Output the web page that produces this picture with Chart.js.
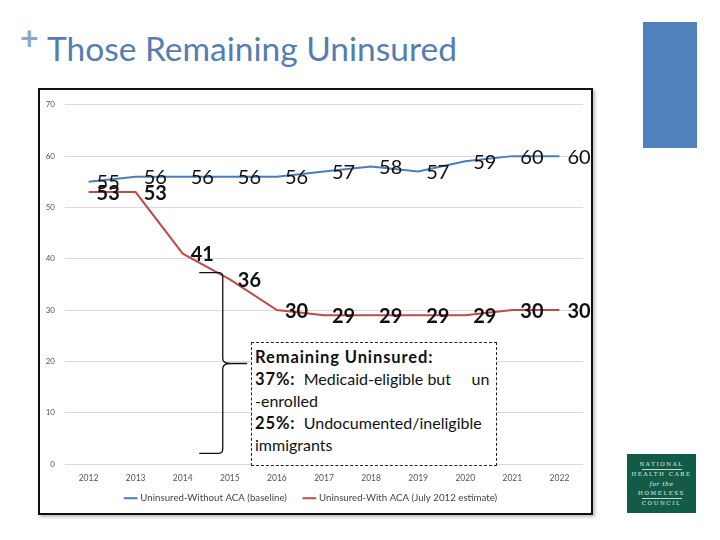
<!DOCTYPE html>
<html>
<head>
<meta charset="utf-8">
<script src="https://cdn.jsdelivr.net/npm/chart.js@4.4.1/dist/chart.umd.min.js"></script>
<style>
  body { margin: 0; width: 720px; height: 540px; background: #fff; position: relative; overflow: hidden; font-family: Lato, "Open Sans", sans-serif; }
  #plus { position: absolute; left: 20px; top: 18px; font-size: 32px; font-weight: bold; color: #8ba6ca; line-height: 40px; }
  #title { position: absolute; left: 47px; top: 28px; font-size: 33.5px; color: #567db1; white-space: nowrap; }
  #bluebar { position: absolute; left: 643px; top: 22px; width: 54px; height: 126px; background: #4f81bd; }
  #frame { position: absolute; left: 38px; top: 88px; width: 551px; height: 423px; border: 2px solid #111; box-shadow: 2px 2px 3px #bbb; background: #fff; }
  #note { position: absolute; left: 251px; top: 342px; width: 238px; height: 116px; border: 1px dashed #222; background: #fff; padding: 3px 3px; font-size: 16px; line-height: 22px; color: #111; white-space: nowrap; }
  #note b { font-weight: bold; letter-spacing: 0.9px; font-size: 16.5px; }
  #logo { position: absolute; left: 627px; top: 454px; width: 69px; height: 59px; background: #125c47; color: #e8efe9; font-family: "DejaVu Serif", serif; font-size: 5.5px; letter-spacing: 1.6px; text-align: center; line-height: 9px; padding-top: 6px; box-sizing: border-box; }
  #logo hr { border: 0; border-top: 0.5px solid #cbd9cf; width: 40px; margin: 0 auto; }
</style>
</head>
<body>
<div id="plus">+</div>
<div id="title">Those Remaining Uninsured</div>
<div id="bluebar"></div>
<div id="frame"><canvas id="chart" width="551" height="423"></canvas></div>
<div id="note">
  <b>Remaining Uninsured:</b><br>
  <b>37%:</b>&nbsp; Medicaid-eligible but &nbsp;&nbsp;&nbsp; un<br>
  -enrolled<br>
  <b>25%:</b>&nbsp; Undocumented/ineligible<br>
  immigrants
</div>
<div id="logo">NATIONAL<hr>HEALTH CARE<br><i style="letter-spacing:0.5px;font-size:6px">for the</i><br>HOMELESS<hr>COUNCIL</div>
<script>
const years = ["2012", "2013", "2014", "2015", "2016", "2017", "2018", "2019", "2020", "2021", "2022"];
const withoutAca = [55, 56, 56, 56, 56, 57, 58, 57, 59, 60, 60];
const withAca = [53, 53, 41, 36, 30, 29, 29, 29, 29, 30, 30];
const yTicks = [0, 10, 20, 30, 40, 50, 60, 70];

// brace beside the note: category index and y values it spans
const braceX = 2.85;
const braceTop = 37.3;
const braceBottom = 2.1;
const braceMid = 19.6;

const labelPlugin = {
    id: "pointLabels",
    afterDatasetsDraw(chart) {
        const ctx = chart.ctx;
        ctx.save();
        chart.data.datasets.forEach((ds, i) => {
            const meta = chart.getDatasetMeta(i);
            ctx.font = (i === 1 ? "bold " : "") + "20px Lato";
            ctx.fillStyle = "#111";
            ctx.textAlign = "left";
            ctx.textBaseline = "middle";
            meta.data.forEach((pt, j) => {
                ctx.fillText(ds.data[j], pt.x + 8, pt.y + 1);
            });
        });
        ctx.restore();
    }
};

const bracePlugin = {
    id: "brace",
    afterDraw(chart) {
        const x = chart.scales.x, y = chart.scales.y;
        const cx = x.getPixelForValue(braceX);
        const left = x.getPixelForValue(braceX - 0.5);
        const tip = x.getPixelForValue(braceX + 0.52);
        const top = y.getPixelForValue(braceTop);
        const bot = y.getPixelForValue(braceBottom);
        const mid = y.getPixelForValue(braceMid);
        const ctx = chart.ctx;
        ctx.save();
        ctx.strokeStyle = "#111";
        ctx.lineWidth = 1.3;
        ctx.beginPath();
        ctx.moveTo(left, top);
        ctx.lineTo(cx - 4, top);
        ctx.quadraticCurveTo(cx, top, cx, top + 4);
        ctx.lineTo(cx, mid - 5);
        ctx.quadraticCurveTo(cx, mid, cx + 8, mid);
        ctx.lineTo(tip, mid);
        ctx.moveTo(cx + 8, mid);
        ctx.quadraticCurveTo(cx, mid, cx, mid + 5);
        ctx.lineTo(cx, bot - 4);
        ctx.quadraticCurveTo(cx, bot, cx - 4, bot);
        ctx.lineTo(left, bot);
        ctx.stroke();
        ctx.restore();
    }
};

new Chart(document.getElementById("chart"), {
    type: "line",
    data: {
        labels: years,
        datasets: [
            {
                label: "Uninsured-Without ACA (baseline)",
                data: withoutAca,
                borderColor: "#4a7ebb",
                backgroundColor: "#4a7ebb",
                borderWidth: 2,
                pointRadius: 0,
                tension: 0
            },
            {
                label: "Uninsured-With ACA (July 2012 estimate)",
                data: withAca,
                borderColor: "#be4b48",
                backgroundColor: "#be4b48",
                borderWidth: 2,
                pointRadius: 0,
                tension: 0
            }
        ]
    },
    options: {
        responsive: false,
        animation: false,
        layout: { padding: { left: 0, right: 8, top: 10, bottom: 0 } },
        plugins: {
            legend: {
                position: "bottom",
                labels: {
                    usePointStyle: true,
                    pointStyle: "line",
                    boxWidth: 17,
                    color: "#444",
                    font: { size: 9.7, family: "Lato" },
                    padding: 3,
                    // wider gap between the two entries, as in the original
                    generateLabels: (chart) => Chart.defaults.plugins.legend.labels.generateLabels(chart).map((l, i) => {
                        if (i === 0) l.text += "\u2003\u2003";
                        return l;
                    })
                }
            },
            tooltip: { enabled: false }
        },
        scales: {
            x: {
                offset: true,
                afterFit: (s) => { s.height += 6; },
                grid: { display: false },
                border: { display: false },
                ticks: { color: "#555", font: { size: 8.5, family: "Lato" }, padding: 1, maxRotation: 0 }
            },
            y: {
                min: 0,
                max: 70,
                afterFit: (s) => { s.width = 25; },
                afterBuildTicks: (s) => { s.ticks = yTicks.map(v => ({ value: v })); },
                grid: { color: "#d9d9d9", drawTicks: false },
                border: { display: false },
                ticks: { color: "#555", font: { size: 8, family: "Lato" }, padding: 10 }
            }
        }
    },
    plugins: [labelPlugin, bracePlugin]
});
</script>
</body>
</html>
